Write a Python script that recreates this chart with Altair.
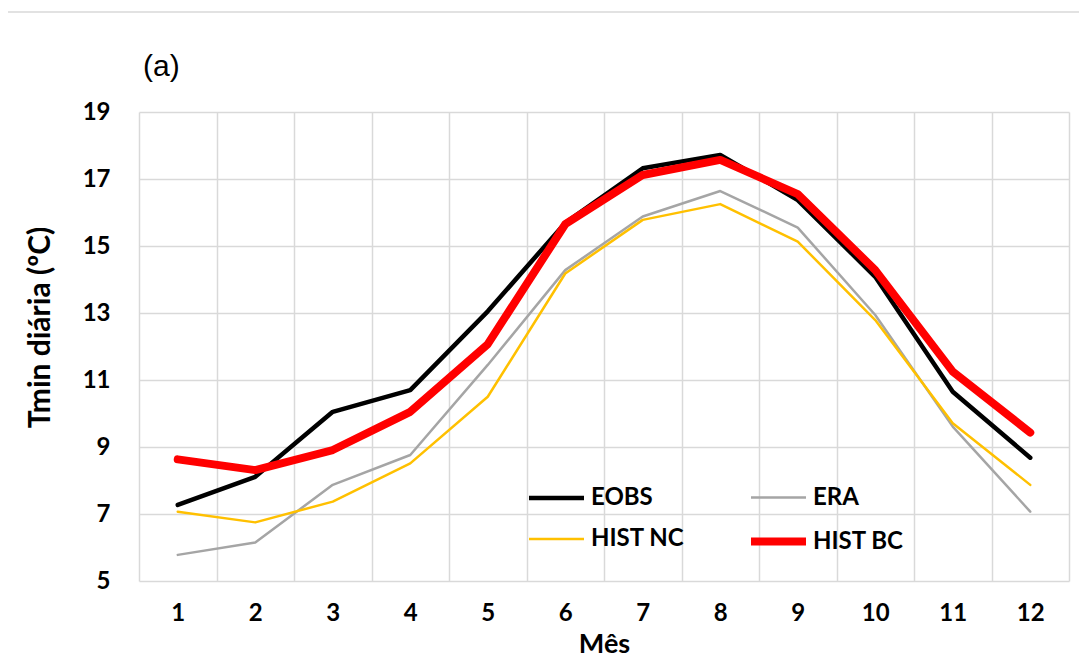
import altair as alt
import pandas as pd

months = list(range(1, 13))
series_names = ["EOBS", "ERA", "HIST NC", "HIST BC"]
eobs = [7.27, 8.11, 10.05, 10.70, 13.05, 15.69, 17.32, 17.72, 16.37, 14.08, 10.65, 8.68]
era = [5.78, 6.15, 7.87, 8.76, 11.45, 14.28, 15.88, 16.64, 15.55, 12.94, 9.61, 7.07]
hist_nc = [7.07, 6.75, 7.37, 8.51, 10.50, 14.18, 15.78, 16.25, 15.13, 12.79, 9.71, 7.87]
hist_bc = [8.63, 8.31, 8.91, 10.05, 12.07, 15.65, 17.12, 17.57, 16.55, 14.28, 11.25, 9.43]
y_ticks = [5, 7, 9, 11, 13, 15, 17, 19]
panel_label = ["(a)"]

colors = ["#000000", "#A5A5A5", "#FFC000", "#FF0000"]
widths = [4.5, 2.5, 2.5, 8]

# drawing order: ERA, HIST NC, EOBS, HIST BC (red on top)
rows = []
for name, vals in [("ERA", era), ("HIST NC", hist_nc), ("EOBS", eobs), ("HIST BC", hist_bc)]:
    for m, v in zip(months, vals):
        rows.append({"Mês": m, "valor": v, "serie": name})
df = pd.DataFrame(rows)

font = "Lato"

lines = alt.Chart(df).mark_line(strokeCap="round", strokeJoin="round").encode(
    x=alt.X(
        "Mês:O",
        scale=alt.Scale(type="band", paddingInner=0, paddingOuter=0),
        axis=alt.Axis(
            title="Mês", labelAngle=0, tickBand="extent", ticks=False, domain=False,
            labelFont=font, labelFontSize=24, labelFontWeight="bold", labelColor="#000000",
            labelPadding=20, titleFont=font, titleFontSize=27, titleFontWeight="bold",
            titleColor="#000000", titlePadding=6,
            grid=True, gridColor="#D9D9D9", gridWidth=1.5,
        ),
    ),
    y=alt.Y(
        "valor:Q",
        scale=alt.Scale(domain=[5, 19], nice=False, zero=False),
        axis=alt.Axis(
            title="Tmin diária (ºC)", values=y_ticks, ticks=False, domain=False,
            labelFont=font, labelFontSize=24, labelFontWeight="bold", labelColor="#000000",
            labelPadding=29, titleFont=font, titleFontSize=30, titleFontWeight="bold",
            titleColor="#000000", titlePadding=27, titleY=215, titleAlign="center",
            grid=True, gridColor="#D9D9D9", gridWidth=1.5,
        ),
    ),
    color=alt.Color(
        "serie:N",
        scale=alt.Scale(domain=series_names, range=colors),
        legend=alt.Legend(
            title=None, orient="none", legendX=386, legendY=356, columns=2,
            direction="horizontal",
            columnPadding=50, rowPadding=-19, symbolType="stroke", symbolSize=3025,
            labelFont=font, labelFontSize=24, labelFontWeight="bold", labelColor="#000000",
            labelOffset=3, labelLimit=300,
        ),
    ),
    strokeWidth=alt.StrokeWidth(
        "serie:N",
        scale=alt.Scale(type="ordinal", domain=series_names, range=widths),
        legend=alt.Legend(title=None),
    ),
)

frame_df = pd.DataFrame({"k": [0]})
frame = alt.Chart(frame_df).mark_rect(fill="transparent", stroke="#D9D9D9", strokeWidth=1.5).encode(
    x=alt.value(-132), x2=alt.value(1000), y=alt.value(-100), y2=alt.value(700)
)

label_df = pd.DataFrame({"t": panel_label})
label = alt.Chart(label_df).mark_text(
    font="Liberation Sans", fontSize=30, align="left", baseline="middle", color="#000000"
).encode(text="t:N", x=alt.value(4), y=alt.value(-45))

chart = alt.layer(frame, lines, label).properties(
    width=930,
    height=469,
    autosize=alt.AutoSizeParams(type="none"),
    padding={"left": 131, "top": 104, "right": 10, "bottom": 78},
).configure_view(stroke=None)

chart.save("out.html", embed_options={"renderer": "svg", "actions": False})
